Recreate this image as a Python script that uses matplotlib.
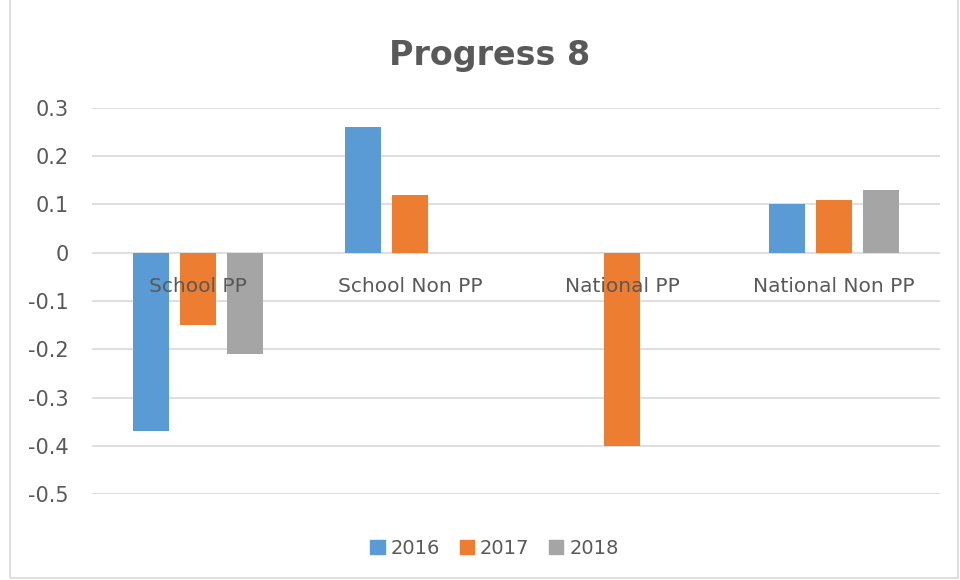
import matplotlib
matplotlib.use("Agg")
import matplotlib.pyplot as plt
import matplotlib.patches as mpatches
import numpy as np

# dati
categories = ["School PP", "School Non PP", "National PP", "National Non PP"]
years = ["2016", "2017", "2018"]
vals_2016 = [-0.37, 0.26, 0.0, 0.10]
vals_2017 = [-0.15, 0.12, -0.40, 0.11]
vals_2018 = [-0.21, 0.0, 0.0, 0.13]
yticks = [0.3, 0.2, 0.1, 0, -0.1, -0.2, -0.3, -0.4, -0.5]

colors = ["#5b9bd5", "#ed7d31", "#a5a5a5"]
text_col = "#595959"
grid_col = "#d9d9d9"

fig = plt.figure(figsize=(9.6, 5.8), dpi=100)
ax = fig.add_axes([0.096, 0.148, 0.883, 0.666])

x = np.arange(len(categories))
width = 0.17
step = 0.222
series = [vals_2016, vals_2017, vals_2018]
for i, (vals, col) in enumerate(zip(series, colors)):
    ax.bar(x + (i - 1) * step, vals, width=width, color=col, zorder=2)

ax.set_xlim(-0.5, len(categories) - 0.5)
ax.set_ylim(-0.5, 0.3)
ax.set_yticks(yticks)
ax.set_yticklabels([f"{t:g}" for t in yticks], fontsize=15, color=text_col)
ax.tick_params(axis="y", length=0, pad=17)
ax.set_xticks([])
ax.yaxis.grid(True, color=grid_col, linewidth=1.2, zorder=0)
ax.set_axisbelow(True)
for s in ax.spines.values():
    s.set_visible(False)

# etichette di categoria sotto la linea dello zero (stile Excel)
for xi, cat in zip(x, categories):
    ax.text(xi, -0.081, cat, ha="center", va="baseline", fontsize=14.5,
            color=text_col, zorder=5)

fig.text(0.51, 0.905, "Progress 8", ha="center", va="center",
         fontsize=24, fontweight="bold", color=text_col)

handles = [mpatches.Patch(color=c, label=y) for c, y in zip(colors, years)]
fig.legend(handles=handles, loc="center", bbox_to_anchor=(0.515, 0.055),
           ncol=3, frameon=False, fontsize=14, labelcolor=text_col,
           handlelength=0.75, handleheight=0.75, handletextpad=0.3,
           columnspacing=1.0)

# bordo del grafico
fig.patches.append(mpatches.Rectangle((0.0105, 0.004), 0.987, 1.2,
                                      transform=fig.transFigure,
                                      fill=False, edgecolor=grid_col,
                                      linewidth=1.2))

fig.savefig("out.png", dpi=100)
plt.close(fig)
